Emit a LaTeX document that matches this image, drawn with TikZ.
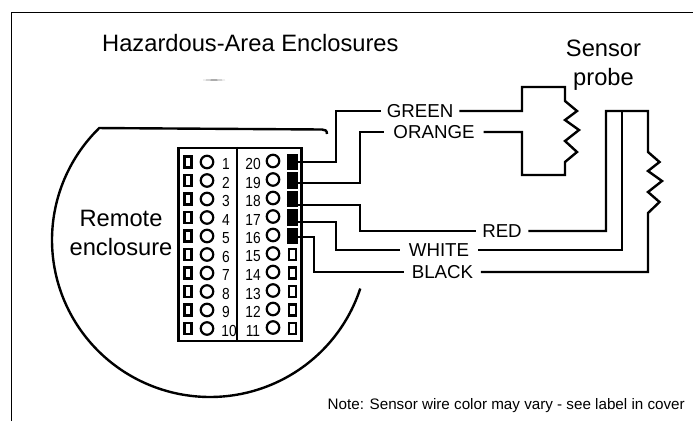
\documentclass[tikz,border=0pt]{standalone}
\usepackage{fontspec}
\setmainfont{Liberation Sans}
\begin{document}
\begin{tikzpicture}[x=1pt,y=-1pt,
  wire/.style={draw=black,line width=2.4pt,line join=miter},
  shell/.style={draw=black,line width=2.4pt},
  term/.style={draw=black,line width=2.2pt,rectangle,inner sep=0pt,minimum width=7pt,minimum height=11pt},
  termon/.style={term,fill=black},
  hole/.style={draw=black,line width=2.2pt,circle,inner sep=0pt,minimum size=12.5pt},
  pinno/.style={inner sep=0pt,xscale=.86,font=\fontsize{16}{16}\selectfont},
  wirelabel/.style={inner ysep=0pt,text height=13pt,text depth=0pt,font=\fontsize{18.7}{19}\selectfont},
  big/.style={inner sep=0pt,align=center,font=\fontsize{23.7}{29.5}\selectfont}]
\useasboundingbox (0,0) rectangle (693,421);
\fill[white] (0,0) rectangle (693,421);
% frame
\draw[line width=1.6pt] (11.5,421) -- (11.5,12.5) -- (693,12.5);
% texts
\node[big,anchor=west] (title) at (102,43) {Hazardous-Area Enclosures};
\node[big] (probe) at (603.5,65) {Sensor\\probe};
\node[big] (remote) at (121,233) {Remote\\enclosure};
\node[inner sep=0pt,anchor=east,font=\fontsize{15.2}{15}\selectfont] (note) at (685,406) {Note: Sensor wire color may vary - see label in cover};
% faint mark
\fill[gray] (203,80) .. controls (212,79.2) and (216,79.2) .. (225,80) .. controls (216,80.8) and (212,80.8) .. (203,80) -- cycle;
% enclosure
\draw[shell,line join=miter] plot[domain=342:134.5,samples=90,smooth] ({210+158*cos(\x)},{240-157*sin(\x)}) -- (322,129.5) .. controls (325,129.5) and (327,130.5) .. (327,134);
% terminal block
\node[draw=black,line width=2.4pt,rectangle,inner sep=0pt,minimum width=123pt,minimum height=193pt] (block) at (240,244.5) {};
\draw[line width=2.4pt] (block.north -| 237,0) -- (block.south -| 237,0);
\foreach \i in {1,...,10}{
  \pgfmathsetmacro{\yy}{162+18.5*(\i-1)}
  \node[term] (sl\i) at (188,\yy) {};
  \node[hole] (hl\i) at (207,\yy) {};
  \pgfmathtruncatemacro{\rr}{21-\i}
  \ifnum\i=10
    \node[pinno] (nl\i) at (229,\yy+2) {\i};
  \else
    \node[pinno] (nl\i) at (226,\yy+2) {\i};
  \fi
  \node[pinno] (nr\rr) at (253,\yy+2) {\rr};
  \node[hole] (hr\rr) at (273,\yy-1) {};
  \ifnum\i<6
    \node[termon,minimum width=9.5pt,minimum height=14pt] (sr\rr) at (292.5,\yy) {};
  \else
    \node[term] (sr\rr) at (292.5,\yy) {};
  \fi
}
% wire labels
\node[wirelabel,inner xsep=6pt] (green) at (420,111) {GREEN};
\node[wirelabel,inner xsep=9pt] (orange) at (434,132) {ORANGE};
\node[wirelabel,inner xsep=6.5pt] (red) at (502,231) {RED};
\node[wirelabel,inner xsep=9pt] (white) at (439,250) {WHITE};
\node[wirelabel,inner xsep=7.5pt] (blackl) at (442.5,272) {BLACK};
% routing points
\coordinate (g1) at (336,162);
\coordinate (o1) at (360,183);
\coordinate (r1) at (360,205);
\coordinate (w1) at (336,222);
\coordinate (b1) at (314,237);
\coordinate (ja) at (522,111);
\coordinate (jb) at (522,132);
\coordinate (pa) at (565,87);
\coordinate (pb) at (565,175);
\coordinate (qa) at (606,111);
\coordinate (qb) at (622,111);
\coordinate (qc) at (648,111);
% wires
\draw[wire] (sr20.east |- g1) -- (g1) |- (green.west);
\draw[wire] (sr19.east |- o1) -- (o1) |- (orange.west);
\draw[wire] (sr18.west |- r1) -- (r1) |- (red.west);
\draw[wire] (sr17.east |- w1) -- (w1) |- (white.west);
\draw[wire] (sr16.east |- b1) -- (b1) |- (blackl.west);
% first sensor
\draw[wire] (green.east) -- (ja) |- (pa) -- (565,101) -- (577,111) -- (565,120) -- (579,130) -- (565,141) -- (577,152) -- (565,162) -- (pb) -| (jb) -- (orange.east);
% second sensor
\draw[wire] (red.east) -| (qa) -- (qc) -- (648,152) -- (659.5,162) -- (648,171) -- (662,181) -- (648,192) -- (659.5,202) -- (648,213) -- (648,272) -- (blackl.east);
\draw[wire] (white.east) -| (qb);
\end{tikzpicture}
\end{document}
